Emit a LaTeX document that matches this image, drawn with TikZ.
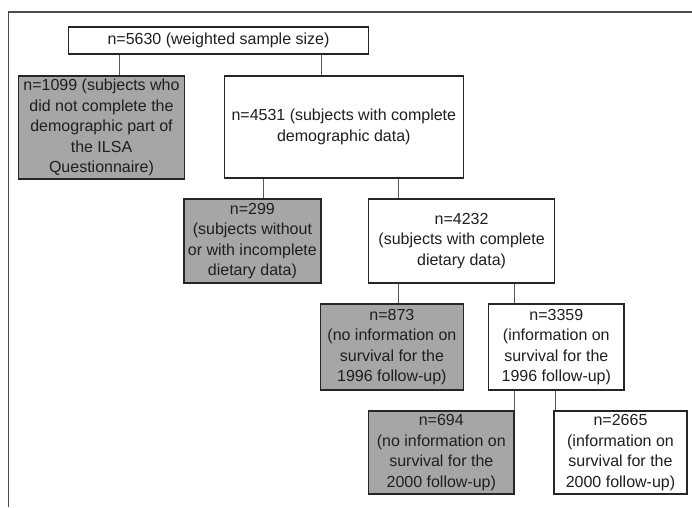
\documentclass[tikz,border=0pt]{standalone}
\usepackage{fontspec}
\setmainfont{Liberation Sans}
\begin{document}
\begin{tikzpicture}[x=1pt,y=-1pt,
  every node/.style={font=\fontsize{16}{20.5}\selectfont, text=black!88},
  fbox/.style={draw=black!85, line width=1.4pt, inner sep=0pt, align=center, fill=white},
  gbox/.style={fbox, fill=black!35},
  conn/.style={draw=black!65, line width=0.8pt}]
\useasboundingbox (0,0) rectangle (692,507);
\fill[white] (0,0) rectangle (692,507);
% frame
\draw[black!70, line width=1.3pt] (8.5,507) -- (8.5,12) -- (692,12);
% boxes
\node[fbox, minimum width=300pt, minimum height=27pt] (top) at (218.5,40.5) {n=5630 (weighted sample size)};
\node[gbox, minimum width=166pt, minimum height=103pt] (n1099) at (101.5,127.5) {n=1099 (subjects who\\did not complete the\\demographic part of\\the ILSA\\Questionnaire)};
\node[fbox, minimum width=239pt, minimum height=102pt] (n4531) at (343.8,127) {n=4531 (subjects with complete\\demographic data)};
\node[gbox, minimum width=137pt, minimum height=84pt] (n299) at (252.4,241) {n=299\\(subjects without\\or with incomplete\\dietary data)};
\node[fbox, minimum width=186pt, minimum height=84pt] (n4232) at (461.6,241) {n=4232\\(subjects with complete\\dietary data)};
\node[gbox, minimum width=143pt, minimum height=86pt] (n873) at (391.9,347) {n=873\\(no information on\\survival for the\\1996 follow-up)};
\node[fbox, minimum width=135.5pt, minimum height=86pt] (n3359) at (556.3,347) {n=3359\\(information on\\survival for the\\1996 follow-up)};
\node[gbox, minimum width=145.6pt, minimum height=83pt] (n694) at (441.3,452.5) {n=694\\(no information on\\survival for the\\2000 follow-up)};
\node[fbox, minimum width=133.3pt, minimum height=83pt] (n2665) at (620.5,452.5) {n=2665\\(information on\\survival for the\\2000 follow-up)};
% connectors
\draw[conn] (top.south -| 119.2,0) -- (n1099.north -| 119.2,0);
\draw[conn] (top.south -| 321.3,0) -- (n4531.north -| 321.3,0);
\draw[conn] (n4531.south -| 263.5,0) -- (n299.north -| 263.5,0);
\draw[conn] (n4531.south -| 398.5,0) -- (n4232.north -| 398.5,0);
\draw[conn] (n4232.south -| 398.5,0) -- (n873.north -| 398.5,0);
\draw[conn] (n4232.south -| 514.1,0) -- (n3359.north -| 514.1,0);
\draw[conn] (n3359.south -| 514.1,0) -- (n694.north -| 514.1,0);
\draw[conn] (n3359.south -| 555,0) -- (n2665.north -| 555,0);
\end{tikzpicture}
\end{document}
